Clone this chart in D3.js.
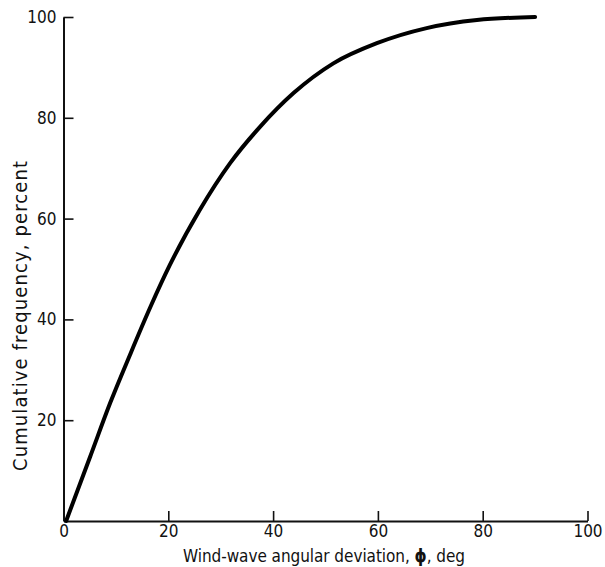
<!DOCTYPE html>
<html><head><meta charset="utf-8">
<script src="https://cdn.jsdelivr.net/npm/d3@7"></script>
<style>body{margin:0;background:#fff}svg{display:block}text{font-family:"Liberation Sans Narrow","DejaVu Sans Condensed",sans-serif;fill:#111}</style>
</head><body>
<svg id="c" width="605" height="567"></svg>
<script>
const angles =  [0.5, 5.1, 8.9, 12.7, 16.6, 20.3, 26.0, 31.8, 37.5, 43.9, 51.5, 59.8, 69.3, 78.9, 90];
const cumFreq = [0, 12.8, 23.4, 33.0, 42.5, 50.8, 61.7, 71.0, 78.2, 84.9, 90.8, 94.8, 97.8, 99.4, 100];
const xTicks = [0, 20, 40, 60, 80, 100];
const yTicks = [20, 40, 60, 80, 100];

const FONT = '"Liberation Sans Narrow","DejaVu Sans Condensed",sans-serif';
const svg = d3.select("#c");
const x = d3.scaleLinear().domain([0, 100]).range([63.5, 587.5]);
const y = d3.scaleLinear().domain([0, 100]).range([521, 17]);

// x axis
const gx = svg.append("g").attr("transform", `translate(0,${y(0)})`)
  .call(d3.axisBottom(x).tickValues(xTicks).tickSize(-10).tickSizeOuter(0).tickPadding(4).tickFormat(d3.format("d")));
gx.select(".domain").attr("stroke", "#111").attr("stroke-width", 2);
gx.selectAll(".tick line").attr("stroke", "#111").attr("stroke-width", 1.6);
gx.selectAll(".tick").filter(d => d === 0).select("line").remove();
gx.selectAll(".tick text").attr("font-size", 17).attr("fill", "#111").style("font-family", FONT);

// y axis
const gy = svg.append("g").attr("transform", `translate(${x(0)},0)`)
  .call(d3.axisLeft(y).tickValues(yTicks).tickSize(-10).tickSizeOuter(0).tickPadding(7).tickFormat(d3.format("d")));
gy.select(".domain").attr("stroke", "#111").attr("stroke-width", 2);
gy.selectAll(".tick line").attr("stroke", "#111").attr("stroke-width", 1.6);
gy.selectAll(".tick text").attr("font-size", 17).attr("fill", "#111").style("font-family", FONT);

// curve
const line = d3.line().x(d => x(d[0])).y(d => y(d[1])).curve(d3.curveMonotoneX);
svg.append("path").datum(angles.map((a, i) => [a, cumFreq[i]]))
  .attr("d", line).attr("fill", "none").attr("stroke", "#000")
  .attr("stroke-width", 4).attr("stroke-linecap", "round");

// titles
const xt = svg.append("text").attr("x", 324).attr("y", 562).attr("text-anchor", "middle").attr("font-size", 17)
  .attr("textLength", 282).attr("lengthAdjust", "spacing");
xt.append("tspan").text("Wind-wave angular deviation, ");
xt.append("tspan").attr("font-weight", "bold").text("ϕ");
xt.append("tspan").text(", deg");

svg.append("text").attr("transform", "translate(27,316) rotate(-90)")
  .attr("text-anchor", "middle").attr("font-size", 20)
  .attr("textLength", 310).attr("lengthAdjust", "spacing")
  .text("Cumulative frequency, percent");
</script>
</body></html>
